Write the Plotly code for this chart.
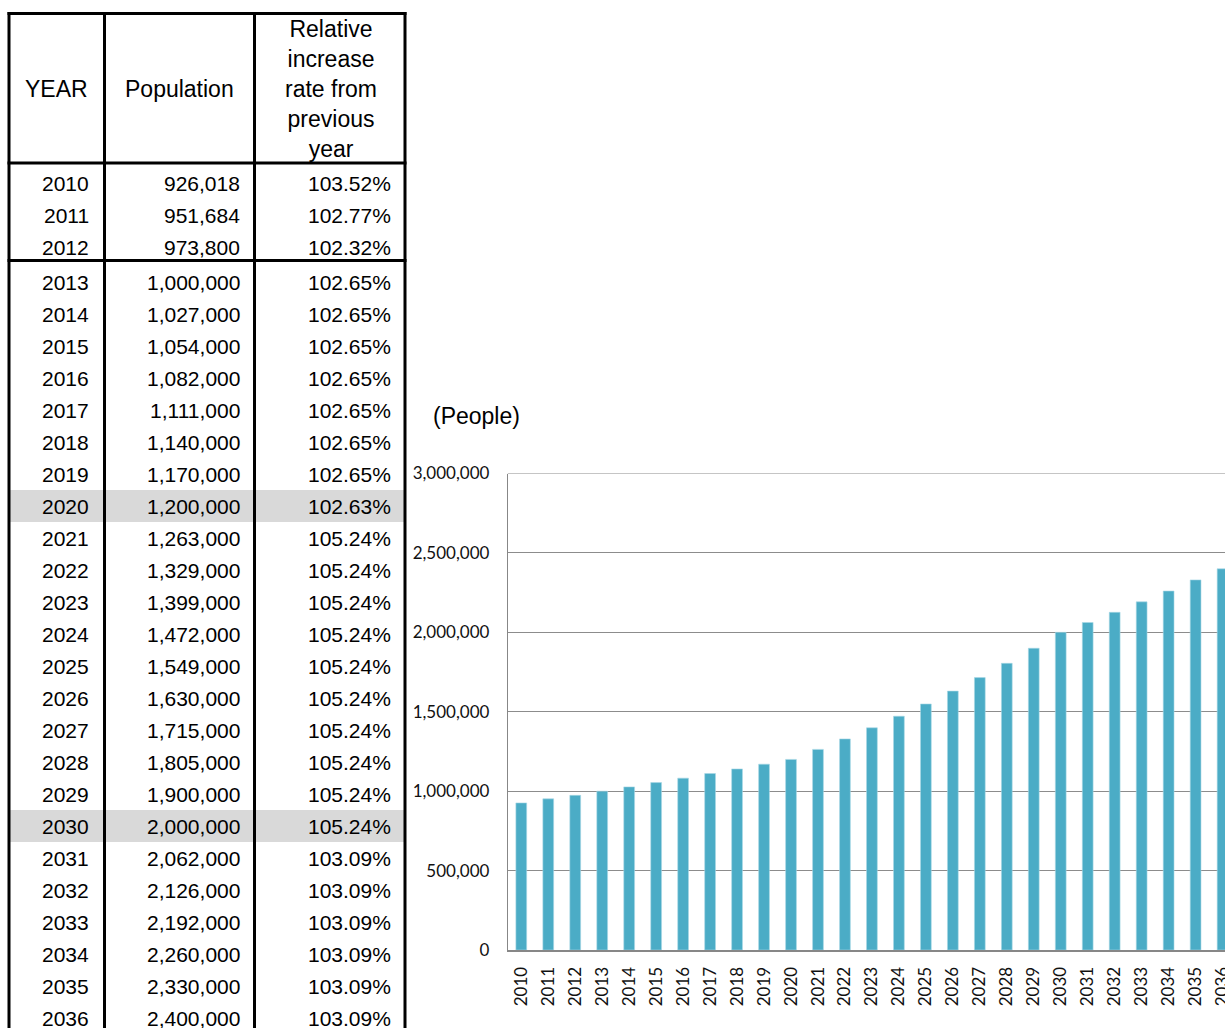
import plotly.graph_objects as go

# ---- data -------------------------------------------------------------
years = list(range(2010, 2037))
population = [
    926018, 951684, 973800,
    1000000, 1027000, 1054000, 1082000, 1111000, 1140000, 1170000,
    1200000,
    1263000, 1329000, 1399000, 1472000, 1549000, 1630000, 1715000, 1805000,
    1900000, 2000000,
    2062000, 2126000, 2192000, 2260000, 2330000, 2400000,
]
growth_rate = [
    103.52, 102.77, 102.32,
    102.65, 102.65, 102.65, 102.65, 102.65, 102.65, 102.65,
    102.63,
    105.24, 105.24, 105.24, 105.24, 105.24, 105.24, 105.24, 105.24,
    105.24, 105.24,
    103.09, 103.09, 103.09, 103.09, 103.09, 103.09,
]
highlight_years = [2020, 2030]
header_labels = ["YEAR", "Population",
                 "Relative<br>increase<br>rate from<br>previous<br>year"]
y_ticks = [0, 500000, 1000000, 1500000, 2000000, 2500000, 3000000]

# ---- page geometry (pixels) ------------------------------------------
W, H = 1225, 1028


def px(x):
    return x / W


def py(y):
    return 1 - y / H


TBL_LEFT, TBL_C1, TBL_C2, TBL_RIGHT = 9, 104.5, 254.5, 405
TBL_TOP, TBL_HEAD, TBL_SEP = 13.5, 163, 260.5
ROW_H, FIRST_ROW = 32, 183
TEXT_FONT = dict(family="Liberation Sans, Arial, sans-serif", size=21, color="#000000")
HEAD_FONT = dict(family="Liberation Sans, Arial, sans-serif", size=23, color="#000000")


def row_center(i):
    # rows below the 2012/2013 divider are pushed down by the thick rule
    return FIRST_ROW + ROW_H * i + (3 if i >= 3 else 0)


fig = go.Figure()

# ---- bar chart --------------------------------------------------------
fig.add_trace(go.Bar(
    x=[str(y) for y in years],
    y=population,
    width=0.4,
    marker=dict(color="#4bacc6", line=dict(color="#a9d8e6", width=0.6)),
    hoverinfo="x+y",
))

shapes = []
annotations = []

# shaded rows
for i, yr in enumerate(years):
    if yr in highlight_years:
        c = row_center(i)
        shapes.append(dict(type="rect", xref="paper", yref="paper",
                           x0=px(TBL_LEFT), x1=px(TBL_RIGHT),
                           y0=py(c - 16), y1=py(c + 16),
                           fillcolor="#d9d9d9", line=dict(width=0), layer="below"))

# table rules
rule = dict(color="#000000", width=3)
for x in (TBL_LEFT, TBL_C1, TBL_C2, TBL_RIGHT):
    shapes.append(dict(type="line", xref="paper", yref="paper",
                       x0=px(x), x1=px(x), y0=py(TBL_TOP - 1.5), y1=py(H + 20), line=rule))
for y in (TBL_TOP, TBL_HEAD, TBL_SEP):
    shapes.append(dict(type="line", xref="paper", yref="paper",
                       x0=px(TBL_LEFT - 1.5), x1=px(TBL_RIGHT + 1.5), y0=py(y), y1=py(y), line=rule))

# frame line along the top of the value range
shapes.append(dict(type="line", xref="x domain", yref="y",
                   x0=0, x1=1, y0=y_ticks[-1], y1=y_ticks[-1],
                   line=dict(color="#8c8c8c", width=1)))

# header
head_centers = [(TBL_LEFT + TBL_C1) / 2, (TBL_C1 + TBL_C2) / 2, (TBL_C2 + TBL_RIGHT) / 2 + 1.5]
for xc, label in zip(head_centers, header_labels):
    annotations.append(dict(xref="paper", yref="paper", x=px(xc), y=py(89),
                            text=label, showarrow=False, xanchor="center", yanchor="middle",
                            font=HEAD_FONT, align="center"))

# body cells
for i, (yr, pop, rate) in enumerate(zip(years, population, growth_rate)):
    yc = py(row_center(i))
    for xr, txt in ((91, str(yr)), (242, f"{pop:,}"), (393, f"{rate:.2f}%")):
        annotations.append(dict(xref="paper", yref="paper", x=px(xr), y=yc,
                                text=txt, showarrow=False, xanchor="right", yanchor="middle",
                                font=TEXT_FONT))

# unit label above the value axis
annotations.append(dict(xref="paper", yref="paper", x=px(431), y=py(416),
                        text="(People)", showarrow=False, xanchor="left", yanchor="middle",
                        font=dict(family="Liberation Sans, Arial, sans-serif", size=23, color="#000000")))

AXIS_FONT = dict(family="Lato, sans-serif", size=17, color="#111111")

fig.update_layout(
    width=W, height=H,
    margin=dict(l=0, r=0, t=0, b=0),
    paper_bgcolor="white", plot_bgcolor="white",
    showlegend=False,
    shapes=shapes,
    annotations=annotations,
    xaxis=dict(
        type="category",
        domain=[px(507.8), 1],
        range=[-0.5, 26.09],
        tickangle=-90,
        tickfont=AXIS_FONT,
        showgrid=False,
        showline=True, linecolor="#878787", linewidth=2,
        ticks="", ticklabelstandoff=8,
        automargin=False,
        fixedrange=True,
    ),
    yaxis=dict(
        domain=[py(950), py(473.5)],
        range=[0, 3000000],
        tickvals=y_ticks,
        ticktext=[f"{v:,}" for v in y_ticks],
        tickfont=AXIS_FONT,
        showgrid=True, gridcolor="#8c8c8c", gridwidth=1,
        showline=True, linecolor="#878787", linewidth=1,
        zeroline=False,
        ticks="", ticklabelstandoff=14,
        automargin=False,
        fixedrange=True,
    ),
)

fig.write_html("out.html")
